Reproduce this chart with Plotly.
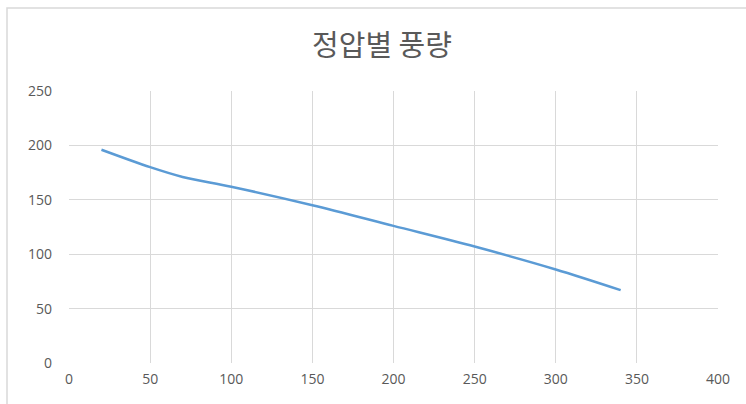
import plotly.graph_objects as go

# Static pressure vs. air volume
pressure = [20, 50, 70, 100, 150, 200, 250, 300, 340]
air_volume = [196, 180, 171, 162, 145, 126, 107, 86, 67]

x_ticks = [0, 50, 100, 150, 200, 250, 300, 350, 400]
y_ticks = [0, 50, 100, 150, 200, 250]

title_text = "정압별 풍량"

fig = go.Figure()
fig.add_trace(go.Scatter(
    x=pressure, y=air_volume, mode="lines",
    line=dict(color="#5B9BD5", width=2.5, shape="spline", smoothing=0.9),
    showlegend=False, hoverinfo="x+y",
))

tick_font = dict(family="Open Sans, Noto Sans, sans-serif", size=14, color="#595959")

fig.update_layout(
    width=746, height=404,
    margin=dict(l=69, r=28, t=91, b=41, autoexpand=False),
    paper_bgcolor="white", plot_bgcolor="white",
    title=dict(
        text=title_text, x=382 / 746, xanchor="center", xref="container",
        y=1 - 46 / 404, yanchor="middle", yref="container",
        font=dict(family="Noto Sans CJK KR, sans-serif", size=29, color="#595959"),
    ),
    xaxis=dict(
        range=[0, 400], tickvals=x_ticks, showgrid=True, gridcolor="#D9D9D9",
        gridwidth=1, zeroline=False, showline=False, ticks="",
        tickfont=tick_font, ticklabelstandoff=6, fixedrange=True,
    ),
    yaxis=dict(
        range=[0, 250], tickvals=y_ticks, showgrid=True, gridcolor="#D9D9D9",
        gridwidth=1, zeroline=False, showline=False, ticks="",
        tickfont=tick_font, ticklabelstandoff=16, fixedrange=True,
    ),
    shapes=[
        # chart area frame
        dict(type="rect", xref="paper", yref="paper",
             x0=(7 - 69) / 649, x1=(760 - 69) / 649,
             y0=(363 - 420) / 272, y1=(363 - 8) / 272,
             line=dict(color="#D9D9D9", width=1.5), layer="below"),
    ],
)

fig.write_html("out.html")
